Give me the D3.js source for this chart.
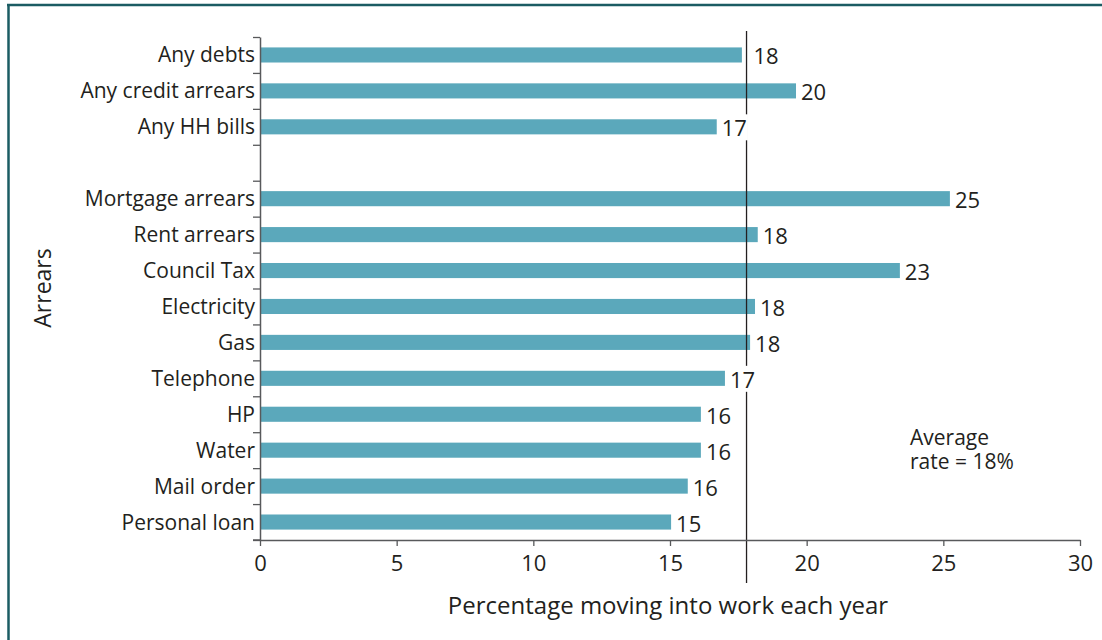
<!DOCTYPE html>
<html>
<head>
<meta charset="utf-8">
<script src="https://cdn.jsdelivr.net/npm/d3@7"></script>
<style>
  html, body { margin: 0; padding: 0; background: #fff; }
  svg { display: block; }
  text { font-family: "Open Sans", "Noto Sans", sans-serif; fill: #231f20; }
</style>
</head>
<body>
<svg id="chart" width="1102" height="640"></svg>
<script>
// ---- data ----
const categories = ["Any debts", "Any credit arrears", "Any HH bills", "",
  "Mortgage arrears", "Rent arrears", "Council Tax", "Electricity", "Gas",
  "Telephone", "HP", "Water", "Mail order", "Personal loan"];
const values = [17.63, 19.61, 16.71, null,
  25.24, 18.21, 23.41, 18.11, 17.93,
  17.01, 16.13, 16.13, 15.65, 15.04];
const valueLabels = ["18", "20", "17", "",
  "25", "18", "23", "18", "18",
  "17", "16", "16", "16", "15"];
const xTicks = [0, 5, 10, 15, 20, 25, 30];
const averageRate = 17.8;
const averageNote = ["Average", "rate = 18%"];
const xTitle = "Percentage moving into work each year";
const yTitle = "Arrears";

// ---- layout ----
const svg = d3.select("#chart");
const W = 1102, H = 640;
const plot = { left: 260, right: 1080, top: 37, bottom: 540 };
const barColor = "#5ba8bb";
const axisColor = "#58595b";

svg.append("rect").attr("width", W).attr("height", H).attr("fill", "#fff");

// frame (top and left rules)
svg.append("line").attr("x1", 7).attr("x2", W).attr("y1", 5).attr("y2", 5)
  .attr("stroke", "#1b5c63").attr("stroke-width", 2.5);
svg.append("line").attr("x1", 8.5).attr("x2", 8.5).attr("y1", 4).attr("y2", H)
  .attr("stroke", "#1b5c63").attr("stroke-width", 2.5);

const x = d3.scaleLinear().domain([0, 30]).range([plot.left, plot.right]);
const y = d3.scaleBand().domain(categories.map((c, i) => i)).range([plot.top, plot.bottom]).padding(0);
const barH = y.bandwidth() * 0.42;

// bars
const rows = categories.map((c, i) => ({ c, i, v: values[i], lab: valueLabels[i] }));
svg.append("g").selectAll("rect").data(rows.filter(d => d.v != null)).join("rect")
  .attr("x", x(0))
  .attr("y", d => y(d.i) + (y.bandwidth() - barH) / 2)
  .attr("width", d => x(d.v) - x(0))
  .attr("height", barH)
  .attr("fill", barColor);

// average line
const ax = x(averageRate);
svg.append("line").attr("x1", ax).attr("x2", ax).attr("y1", 31).attr("y2", 583)
  .attr("stroke", "#231f20").attr("stroke-width", 1.3);

// value labels (with white background)
const vl = svg.append("g");
rows.filter(d => d.v != null).forEach(d => {
  const end = x(d.v);
  let lx = end + 5;
  if (ax >= end && ax <= end + 8) lx = ax + 7;
  const t = vl.append("text")
    .attr("x", lx)
    .attr("y", y(d.i) + y.bandwidth() / 2 + 9.5)
    .attr("font-size", 22)
    .text(d.lab);
  const bb = t.node().getBBox();
  vl.insert("rect", () => t.node())
    .attr("x", bb.x - 1).attr("y", bb.y + 2)
    .attr("width", bb.width + 2).attr("height", bb.height - 4)
    .attr("fill", "#fff");
});

// y axis (ticks at band boundaries)
const yEdge = d3.scaleLinear().domain([0, categories.length]).range([plot.top, plot.bottom]);
const yAxis = svg.append("g").attr("transform", `translate(${plot.left},0)`)
  .call(d3.axisLeft(yEdge).tickValues(d3.range(categories.length + 1)).tickSize(7).tickSizeOuter(0).tickFormat(""));
yAxis.select(".domain").attr("stroke", axisColor).attr("stroke-width", 1.5);
yAxis.selectAll(".tick line").attr("stroke", axisColor).attr("stroke-width", 1.3);

// category labels
svg.append("g").selectAll("text").data(rows).join("text")
  .attr("x", plot.left - 5)
  .attr("y", d => y(d.i) + y.bandwidth() / 2 + 7.5)
  .attr("text-anchor", "end")
  .attr("font-size", 21)
  .text(d => d.c);

// x axis
const xAxis = svg.append("g").attr("transform", `translate(0,${plot.bottom})`)
  .call(d3.axisBottom(x).tickValues(xTicks).tickSize(6).tickSizeOuter(0).tickPadding(9.5).tickFormat(d3.format("d")));
xAxis.select(".domain").attr("stroke", axisColor).attr("stroke-width", 1.5);
xAxis.selectAll(".tick line").attr("stroke", axisColor).attr("stroke-width", 1.3);
xAxis.selectAll(".tick text").attr("font-size", 22).attr("fill", "#231f20")
  .attr("font-family", "'Open Sans', 'Noto Sans', sans-serif");
// small extension of the x axis line to the left
svg.append("line").attr("x1", plot.left - 7).attr("x2", plot.left).attr("y1", plot.bottom).attr("y2", plot.bottom)
  .attr("stroke", axisColor).attr("stroke-width", 1.5);

// titles
svg.append("text").attr("x", 668).attr("y", 614).attr("text-anchor", "middle")
  .attr("font-size", 24).text(xTitle);
svg.append("text").attr("transform", "translate(51,288) rotate(-90)").attr("text-anchor", "middle")
  .attr("font-size", 23).text(yTitle);

// average note (two separate lines)
svg.append("g").selectAll("text").data(averageNote).join("text")
  .attr("x", 910)
  .attr("y", (d, i) => 445 + i * 24)
  .attr("font-size", 21)
  .text(d => d);
</script>
</body>
</html>
